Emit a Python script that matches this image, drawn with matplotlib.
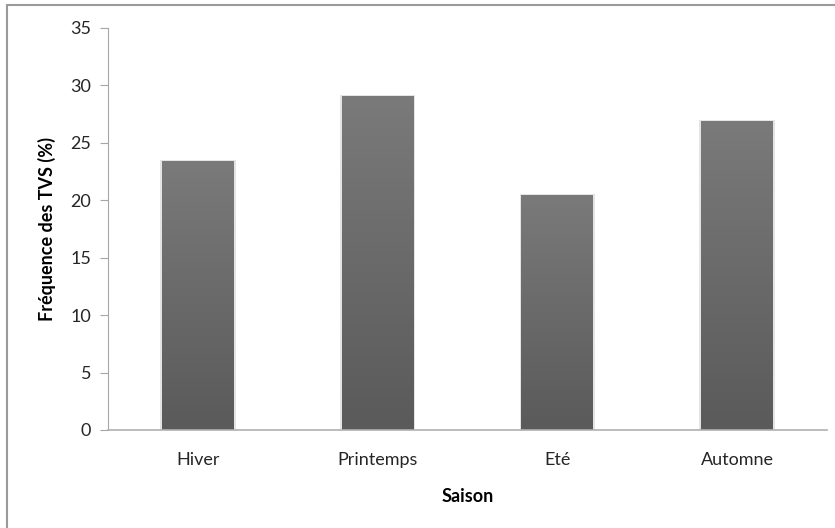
import numpy as np
import matplotlib
matplotlib.use("Agg")
import matplotlib.pyplot as plt
from matplotlib.patches import Rectangle

saisons = ["Hiver", "Printemps", "Eté", "Automne"]
frequence = [23.4, 29.1, 20.5, 26.9]
y_ticks = [0, 5, 10, 15, 20, 25, 30, 35]

plt.rcParams['font.family'] = ['Lato', 'DejaVu Sans']

fig = plt.figure(figsize=(8.35, 5.28), dpi=100)
ax = fig.add_axes([108 / 835, 1 - 430 / 528, (827 - 108) / 835, (430 - 28) / 528])

# frame round the chart area (only left and top visible in the reference)
fig.add_artist(Rectangle((7 / 835, -0.05), 1.1, 1 - 5 / 528 + 0.05,
                         transform=fig.transFigure, fill=False,
                         edgecolor="#9a9a9a", linewidth=1.5))

x = np.arange(len(saisons))
bars = ax.bar(x, frequence, width=0.4, color="none", edgecolor="none", zorder=2)

# vertical gradient in each bar, lighter at the top
grad = np.linspace(0, 1, 256).reshape(-1, 1)
cmap = matplotlib.colors.LinearSegmentedColormap.from_list("g", ["#5a5a5a", "#7a7a7a"])
for b in bars:
    x0, w, h = b.get_x(), b.get_width(), b.get_height()
    # soft shadow
    ax.add_patch(Rectangle((x0 - 0.01, 0), w + 0.02, h + 0.08, color="#e4e4e4", zorder=1, lw=0))
    im = ax.imshow(grad, extent=[x0, x0 + w, 0, h], origin="lower", aspect="auto",
                   cmap=cmap, zorder=2)
    im.set_clip_path(b)

ax.set_xlim(-0.5, len(saisons) - 0.5)
ax.set_ylim(0, 35)
ax.set_yticks(y_ticks)
ax.set_xticks(x)
ax.set_xticklabels(saisons)

for s in ["top", "right"]:
    ax.spines[s].set_visible(False)
ax.spines["left"].set_color("#a6a6a6")
ax.spines["bottom"].set_color("#b0b0b0")
ax.spines["bottom"].set_linewidth(1.2)
ax.tick_params(axis="y", direction="out", length=6, color="#a6a6a6", labelsize=13,
               labelcolor="#262626", pad=6)
ax.tick_params(axis="x", length=0, labelsize=13, labelcolor="#262626", pad=16)

ax.set_ylabel("Fréquence des TVS (%)", fontsize=13, fontweight="bold", labelpad=10)
ax.set_xlabel("Saison", fontsize=13, fontweight="bold", labelpad=14)

fig.savefig("out.png", dpi=100)
